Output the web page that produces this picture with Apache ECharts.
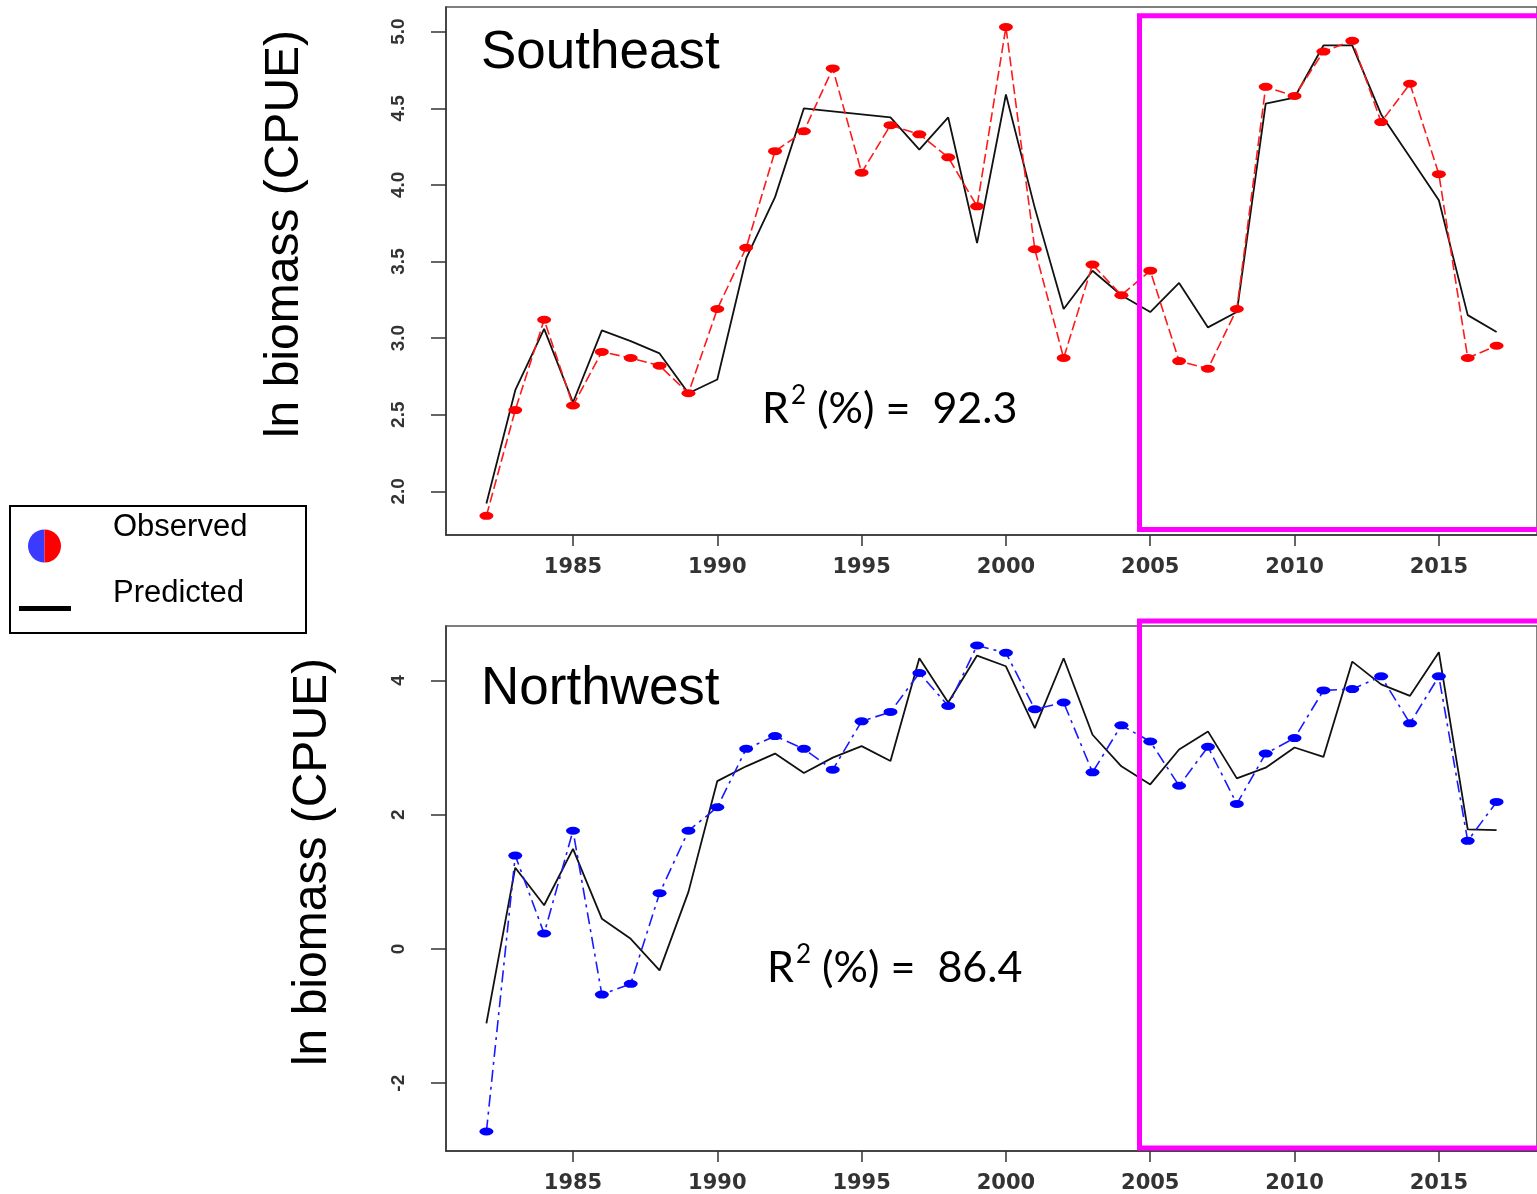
<!DOCTYPE html>
<html>
<head>
<meta charset="utf-8">
<script src="https://cdn.jsdelivr.net/npm/echarts@6/dist/echarts.min.js"></script>
<style>
html,body{margin:0;padding:0;background:#fff;}
#chart{width:1537px;height:1194px;}
</style>
</head>
<body>
<div id="chart"></div>
<script>
// ---- data ----
const years = [1982,1983,1984,1985,1986,1987,1988,1989,1990,1991,1992,1993,1994,1995,1996,1997,1998,1999,
               2000,2001,2002,2003,2004,2005,2006,2007,2008,2009,2010,2011,2012,2013,2014,2015,2016,2017];
const xTicks = [1985,1990,1995,2000,2005,2010,2015];

const seObserved = [1.84,2.53,3.12,2.56,2.91,2.87,2.82,2.64,3.19,3.59,4.22,4.35,4.76,4.08,4.39,4.33,4.18,3.86,
                    5.03,3.58,2.87,3.48,3.28,3.44,2.85,2.80,3.19,4.64,4.58,4.87,4.94,4.41,4.66,4.07,2.87,2.95];
const sePredicted = [1.92,2.66,3.06,2.58,3.05,2.98,2.90,2.64,2.73,3.52,3.92,4.50,4.48,4.46,4.44,4.23,4.44,3.62,
                     4.59,3.85,3.19,3.44,3.28,3.17,3.36,3.07,3.17,4.53,4.57,4.91,4.91,4.46,4.18,3.90,3.15,3.04];
const seYTicks = [2.0,2.5,3.0,3.5,4.0,4.5,5.0];

const nwObserved = [-2.72,1.39,0.23,1.76,-0.68,-0.52,0.83,1.76,2.11,2.98,3.17,2.98,2.67,3.39,3.53,4.11,3.62,4.52,
                    4.41,3.57,3.67,2.63,3.33,3.09,2.43,3.01,2.16,2.91,3.14,3.85,3.87,4.06,3.36,4.06,1.61,2.19];
const nwPredicted = [-1.11,1.21,0.65,1.49,0.45,0.15,-0.32,0.85,2.50,2.72,2.91,2.62,2.85,3.02,2.80,4.33,3.67,4.37,
                     4.21,3.29,4.33,3.19,2.72,2.45,2.97,3.24,2.54,2.70,3.00,2.86,4.28,3.94,3.77,4.42,1.78,1.77];
const nwYTicks = [-2,0,2,4];

const panelTitles = ['Southeast','Northwest'];
const r2Values = ['92.3','86.4'];
const yTitle = 'ln biomass (CPUE)';
const legendLabels = ['Observed','Predicted'];

// ---- build ----
const pairs = (xs, ys) => xs.map((x, i) => [x, ys[i]]);
const chart = echarts.init(document.getElementById('chart'), null, {renderer:'canvas'});

const axisColor = '#333';
function xAxisFor(gi){
  return {
    gridIndex: gi, type:'value', min:1980.6, max:2018.4,
    axisLine:{show:true, onZero:false, lineStyle:{color:axisColor, width:1.5}},
    axisTick:{show:true, length:11, customValues:xTicks, lineStyle:{color:axisColor, width:1.5}},
    axisLabel:{customValues:xTicks, margin:22, fontSize:21, fontWeight:'bold', fontFamily:'DejaVu Sans', color:'#333',
               formatter: v => String(Math.round(v))},
    splitLine:{show:false}
  };
}
function yAxisFor(gi, mn, mx, ticks, fmt){
  return {
    gridIndex: gi, type:'value', min:mn, max:mx,
    axisLine:{show:true, onZero:false, lineStyle:{color:axisColor, width:1.5}},
    axisTick:{show:true, length:15, customValues:ticks, lineStyle:{color:axisColor, width:1.5}},
    axisLabel:{customValues:ticks, rotate:90, margin:38, fontSize:19, fontWeight:'bold', fontFamily:'Liberation Sans', color:'#333', formatter:fmt},
    splitLine:{show:false}
  };
}

function r2Label(x, y, val){
  return {type:'text', x:x, y:y, z:10, style:{
    text:'{a|R}{s|2}{a| (%) =  ' + val + '}',
    align:'left', verticalAlign:'middle',
    rich:{
      a:{font:'43px Lato', fill:'#000', verticalAlign:'bottom', lineHeight:48},
      s:{font:'26px Lato', fill:'#000', verticalAlign:'top', lineHeight:48, padding:[0,0,0,2]}
    }
  }};
}

const option = {
  backgroundColor:'#ffffff',
  animation:false,
  grid:[
    {left:446, top:7, width:1106, height:528, show:true, borderColor:'#555', borderWidth:1.5, backgroundColor:'transparent'},
    {left:446, top:626, width:1106, height:527, show:true, borderColor:'#555', borderWidth:1.5, backgroundColor:'transparent'}
  ],
  xAxis:[xAxisFor(0), xAxisFor(1)],
  yAxis:[
    yAxisFor(0, 1.715, 5.161, seYTicks, v => v.toFixed(1)),
    yAxisFor(1, -3.01, 4.81, nwYTicks, v => String(Math.round(v)))
  ],
  series:[
    {name:'Predicted SE', type:'line', xAxisIndex:0, yAxisIndex:0, data:pairs(years, sePredicted),
     symbol:'none', lineStyle:{color:'#111', width:1.8}, z:2},
    {name:'Observed SE', type:'line', xAxisIndex:0, yAxisIndex:0, data:pairs(years, seObserved),
     symbol:'circle', symbolSize:[14,8], itemStyle:{color:'#ff0000'},
     lineStyle:{color:'#ff1a1a', width:1.6, type:[10,4]}, z:3},
    {name:'Predicted NW', type:'line', xAxisIndex:1, yAxisIndex:1, data:pairs(years, nwPredicted),
     symbol:'none', lineStyle:{color:'#111', width:1.8}, z:2},
    {name:'Observed NW', type:'line', xAxisIndex:1, yAxisIndex:1, data:pairs(years, nwObserved),
     symbol:'circle', symbolSize:[14,8], itemStyle:{color:'#0000ff'},
     lineStyle:{color:'#1a1aff', width:1.6, type:[12,5,3,5]}, z:3}
  ],
  graphic:[
    // panel titles
    {type:'text', left:481, top:27, z:10, style:{text:panelTitles[0], font:'53px "Liberation Sans", Arial', fill:'#000'}},
    {type:'text', left:481, top:663, z:10, style:{text:panelTitles[1], font:'53px "Liberation Sans", Arial', fill:'#000'}},
    // R2 texts
    r2Label(762, 407, r2Values[0]),
    r2Label(767, 966, r2Values[1]),
    // y axis titles
    {type:'text', x:285, y:234, rotation:Math.PI/2, z:10, style:{text:yTitle, font:'48px "Liberation Sans", Arial', fill:'#000', align:'center', verticalAlign:'middle'}},
    {type:'text', x:313, y:862, rotation:Math.PI/2, z:10, style:{text:yTitle, font:'48px "Liberation Sans", Arial', fill:'#000', align:'center', verticalAlign:'middle'}},
    // magenta highlight boxes
    {type:'rect', z:20, shape:{x:1139.5, y:15.8, width:430, height:513.7}, style:{fill:'none', stroke:'#ff00ff', lineWidth:5}},
    {type:'rect', z:20, shape:{x:1139.5, y:621, width:430, height:527}, style:{fill:'none', stroke:'#ff00ff', lineWidth:5}},
    // legend box
    {type:'rect', z:10, shape:{x:10, y:506, width:296, height:127}, style:{fill:'#fff', stroke:'#000', lineWidth:2}},
    {type:'sector', z:11, shape:{cx:44.5, cy:546, r0:0, r:16.5, startAngle:Math.PI/2, endAngle:Math.PI*1.5, clockwise:true}, style:{fill:'#3b3bff'}},
    {type:'sector', z:11, shape:{cx:44.5, cy:546, r0:0, r:16.5, startAngle:-Math.PI/2, endAngle:Math.PI/2, clockwise:true}, style:{fill:'#ff0000'}},
    {type:'rect', z:11, shape:{x:19, y:606, width:52, height:5}, style:{fill:'#000'}},
    {type:'text', x:113, y:527, z:11, style:{text:legendLabels[0], font:'31px "Liberation Sans", Arial', fill:'#000', align:'left', verticalAlign:'middle'}},
    {type:'text', x:113, y:593, z:11, style:{text:legendLabels[1], font:'31px "Liberation Sans", Arial', fill:'#000', align:'left', verticalAlign:'middle'}}
  ]
};
chart.setOption(option);
</script>
</body>
</html>
